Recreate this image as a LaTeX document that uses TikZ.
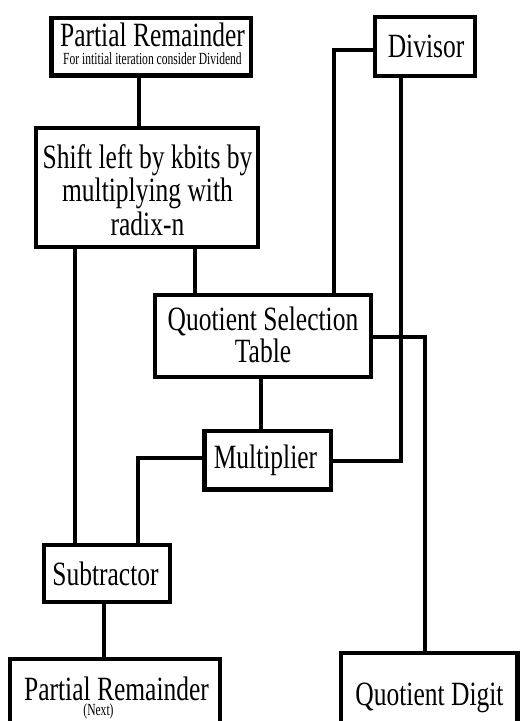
\documentclass[tikz,border=0pt]{standalone}
\usepackage{fontspec}
\setmainfont{Liberation Serif}[FakeStretch=0.75]
\newfontfamily\narrowfont{Liberation Serif}[FakeStretch=0.68]
\begin{document}
\begin{tikzpicture}[x=1pt,y=-1pt,
  box/.style={draw=black,line width=4.5pt,fill=white,inner sep=0pt,rectangle},
  big/.style={inner sep=0pt,anchor=base,font=\fontsize{34}{36}\selectfont},
  small/.style={inner sep=0pt,anchor=base,font=\narrowfont\fontsize{17}{19}\selectfont},
  conn/.style={draw=black,line width=4pt}]
\useasboundingbox (0,0) rectangle (520,721);
\clip (0,0) rectangle (520,721);
% helper coordinates
\coordinate (x139) at (139,0);
\coordinate (x195) at (195,0);
\coordinate (x75) at (75,0);
\coordinate (x334) at (334,0);
\coordinate (x401) at (401,0);
\coordinate (x425) at (425,0);
\coordinate (x261) at (261,0);
\coordinate (x138) at (138,0);
\coordinate (x104) at (104,0);
\coordinate (y50) at (0,50);
\coordinate (y461) at (0,461);
\coordinate (y337) at (0,337);
\coordinate (y458) at (0,458);
% boxes
\node[box,minimum width=199.5pt,minimum height=57.5pt] (bprtop) at (151.25,46.75) {};
\node[box,minimum width=222pt,minimum height=119pt] (bshift) at (147,187.5) {};
\node[box,minimum width=216pt,minimum height=82pt] (bqst) at (263,336) {};
\node[box,minimum width=100pt,minimum height=59pt] (bdiv) at (425,46.5) {};
\node[box,minimum width=126.5pt,minimum height=58.5pt] (bmul) at (267.75,460.25) {};
\node[box,minimum width=126pt,minimum height=57pt] (bsub) at (107,573.5) {};
\node[box,minimum width=210pt,minimum height=80pt] (bprnext) at (115,699) {};
\node[box,minimum width=176.5pt,minimum height=84pt] (bqd) at (429.25,695) {};
% connectors
\draw[conn] (bprtop.south -| x139) -- (bshift.north -| x139);
\draw[conn] (bshift.south -| x195) -- (bqst.north -| x195);
\draw[conn] (bshift.south -| x75) -- (bsub.north -| x75);
\draw[conn] (bdiv.west |- y50) -| (bqst.north -| x334);
\draw[conn] (bdiv.south -| x401) |- (bmul.east |- y461);
\draw[conn] (bqst.east |- y337) -| (bqd.north -| x425);
\draw[conn] (bqst.south -| x261) -- (bmul.north -| x261);
\draw[conn] (bmul.west |- y458) -| (bsub.north -| x138);
\draw[conn] (bsub.south -| x104) -- (bprnext.north -| x104);
% texts
\node[big] (t1) at (152.5,46.5) {Partial Remainder};
\node[small] (t2) at (152.5,64) {For intitial iteration consider Dividend};
\node[big] (t3) at (147.5,168) {Shift left by kbits by};
\node[big] (t4) at (147.5,201.5) {multiplying with};
\node[big] (t5) at (147.5,235) {radix-n};
\node[big] (t6) at (263,330) {Quotient Selection};
\node[big] (t7) at (263,362) {Table};
\node[big] (t8) at (426,57) {Divisor};
\node[big] (t9) at (265.5,468) {Multiplier};
\node[big] (t10) at (105.5,585) {Subtractor};
\node[big] (t11) at (116.5,700) {Partial Remainder};
\node[small] (t12) at (98.5,715.5) {(Next)};
\node[big] (t13) at (429.5,705) {Quotient Digit};
\end{tikzpicture}
\end{document}
